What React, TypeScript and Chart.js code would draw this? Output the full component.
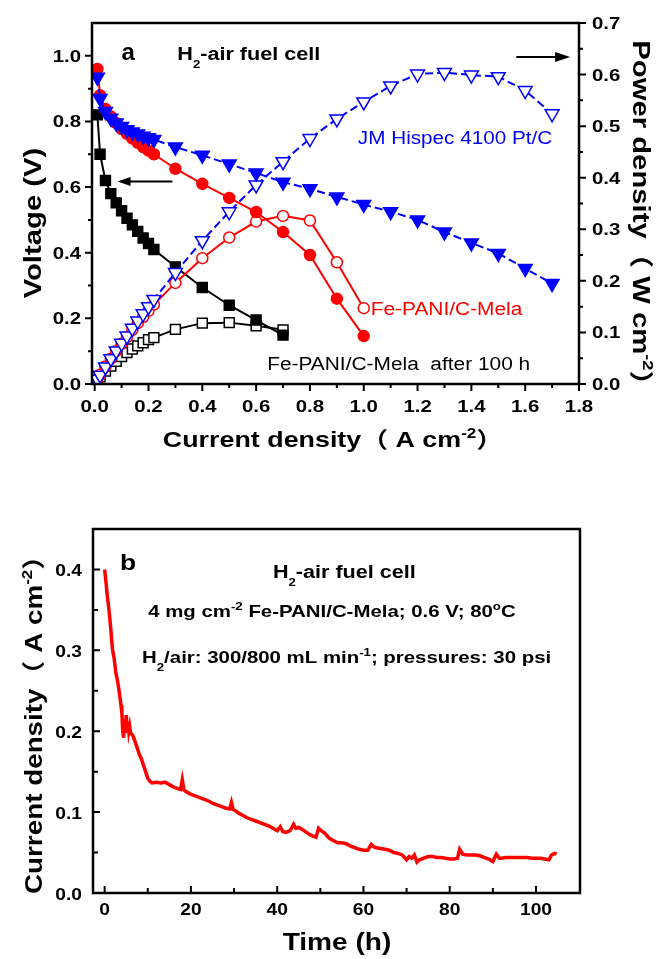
import React, { useEffect, useRef } from 'react';
import { Chart, registerables } from 'chart.js';
Chart.register(...registerables);

const FONT = '"Liberation Sans", Arial, "Noto Sans CJK SC", sans-serif';

// ---------- Panel a: polarization / power curves ----------
const ptCurrent = [0.01, 0.02, 0.04, 0.06, 0.08, 0.10, 0.12, 0.14, 0.16, 0.18, 0.20, 0.22, 0.3, 0.4, 0.5, 0.6, 0.7, 0.8, 0.9, 1.0, 1.1, 1.2, 1.3, 1.4, 1.5, 1.6, 1.7];
const ptVoltage = [0.935, 0.87, 0.83, 0.81, 0.795, 0.785, 0.775, 0.768, 0.762, 0.755, 0.75, 0.745, 0.722, 0.697, 0.67, 0.643, 0.615, 0.595, 0.57, 0.547, 0.525, 0.5, 0.463, 0.43, 0.398, 0.352, 0.306];
const ptPower = [0.009, 0.017, 0.033, 0.049, 0.064, 0.079, 0.093, 0.108, 0.122, 0.136, 0.15, 0.164, 0.216, 0.278, 0.334, 0.386, 0.431, 0.476, 0.514, 0.547, 0.578, 0.601, 0.604, 0.599, 0.596, 0.569, 0.524];

const feCurrent = [0.01, 0.02, 0.04, 0.06, 0.08, 0.10, 0.12, 0.14, 0.16, 0.18, 0.20, 0.22, 0.3, 0.4, 0.5, 0.6, 0.7, 0.8, 0.9, 1.0];
const feVoltage = [0.96, 0.88, 0.838, 0.815, 0.795, 0.777, 0.762, 0.748, 0.735, 0.722, 0.711, 0.70, 0.656, 0.61, 0.567, 0.524, 0.463, 0.393, 0.26, 0.146];
const fePower = [0.01, 0.018, 0.034, 0.049, 0.064, 0.078, 0.091, 0.105, 0.118, 0.13, 0.142, 0.154, 0.196, 0.244, 0.284, 0.315, 0.326, 0.317, 0.236, 0.147];

const agedCurrent = [0.01, 0.02, 0.04, 0.06, 0.08, 0.10, 0.12, 0.14, 0.16, 0.18, 0.20, 0.22, 0.3, 0.4, 0.5, 0.6, 0.7];
const agedVoltage = [0.82, 0.70, 0.62, 0.58, 0.552, 0.528, 0.505, 0.485, 0.465, 0.445, 0.428, 0.41, 0.357, 0.294, 0.24, 0.195, 0.149];
const agedPower = [0.008, 0.014, 0.025, 0.035, 0.044, 0.053, 0.061, 0.068, 0.074, 0.08, 0.086, 0.09, 0.106, 0.118, 0.119, 0.113, 0.105];

const aXMajor = [0, 0.2, 0.4, 0.6, 0.8, 1.0, 1.2, 1.4, 1.6, 1.8];
const aXMinor = [0.1, 0.3, 0.5, 0.7, 0.9, 1.1, 1.3, 1.5, 1.7];
const aYMajor = [0, 0.2, 0.4, 0.6, 0.8, 1.0];
const aYMinor = [0.1, 0.3, 0.5, 0.7, 0.9];
const aY2Major = [0, 0.1, 0.2, 0.3, 0.4, 0.5, 0.6, 0.7];
const aY2Minor = [0.05, 0.15, 0.25, 0.35, 0.45, 0.55, 0.65];

// ---------- Panel b: durability ----------
const timeH = [0, 0.3, 0.6, 1.0, 1.4, 1.8, 2.2, 2.6, 3.0, 3.4, 3.8, 4.0, 4.2, 4.4, 4.6, 4.8, 5.0, 5.2, 5.4, 5.6, 5.8, 6.0, 6.5, 7.0, 7.5, 8.0, 8.5, 9.0, 9.5, 10.0, 10.5, 11, 12, 13, 14, 15, 16, 17, 17.6, 18.0, 18.4, 19, 20, 21, 22, 23, 24, 25, 26, 27, 28, 29, 29.4, 29.8, 30.5, 31, 32, 33, 34, 35, 36, 37, 38, 39, 40, 40.7, 41.3, 42, 43, 43.8, 44.3, 45, 46, 47, 48, 49, 49.6, 50.2, 51, 52, 53, 54, 55, 56, 57, 58, 59, 60, 61, 61.8, 62.4, 63, 64, 65, 66, 67, 68, 69, 70, 70.6, 71.2, 71.8, 72.4, 73, 74, 75, 76, 77, 78, 79, 80, 81, 81.8, 82.3, 83, 84, 85, 86, 87, 88, 89, 90, 90.8, 91.5, 92, 93, 94, 95, 96, 97, 98, 99, 100, 101, 102, 103, 103.6, 104.3, 104.8];
const currentDensity = [0.400, 0.385, 0.368, 0.350, 0.328, 0.302, 0.290, 0.272, 0.262, 0.248, 0.232, 0.222, 0.200, 0.192, 0.215, 0.198, 0.220, 0.205, 0.212, 0.200, 0.206, 0.198, 0.195, 0.188, 0.180, 0.172, 0.166, 0.158, 0.150, 0.142, 0.138, 0.136, 0.137, 0.136, 0.137, 0.134, 0.131, 0.129, 0.128, 0.140, 0.127, 0.125, 0.122, 0.120, 0.118, 0.116, 0.114, 0.111, 0.109, 0.107, 0.105, 0.104, 0.112, 0.103, 0.101, 0.099, 0.096, 0.093, 0.091, 0.089, 0.087, 0.085, 0.083, 0.080, 0.077, 0.082, 0.076, 0.075, 0.077, 0.085, 0.080, 0.081, 0.078, 0.074, 0.071, 0.069, 0.080, 0.077, 0.074, 0.068, 0.065, 0.062, 0.062, 0.061, 0.058, 0.056, 0.054, 0.053, 0.053, 0.060, 0.057, 0.056, 0.055, 0.054, 0.053, 0.050, 0.049, 0.047, 0.041, 0.045, 0.043, 0.047, 0.038, 0.041, 0.043, 0.045, 0.045, 0.044, 0.044, 0.043, 0.042, 0.042, 0.043, 0.054, 0.048, 0.047, 0.047, 0.047, 0.046, 0.044, 0.042, 0.039, 0.048, 0.043, 0.043, 0.044, 0.044, 0.044, 0.044, 0.044, 0.044, 0.043, 0.043, 0.043, 0.042, 0.041, 0.047, 0.049, 0.048];

const bXMajor = [0, 20, 40, 60, 80, 100];
const bXMinor = [10, 30, 50, 70, 90];
const bYMajor = [0, 0.1, 0.2, 0.3, 0.4];
const bYMinor = [0.05, 0.15, 0.25, 0.35];

type Part = { t: string; sup?: boolean; sub?: boolean };
type TOpts = { bold?: boolean; color?: string; stretch?: number; align?: 'left' | 'center' | 'right'; rot?: number };

function drawRich(ctx: CanvasRenderingContext2D, parts: Part[], x: number, y: number, size: number, o: TOpts) {
  const weight = o.bold ? 'bold ' : '';
  const s = o.stretch ?? 1;
  ctx.save();
  ctx.translate(x, y);
  if (o.rot) ctx.rotate(o.rot);
  ctx.scale(s, 1);
  ctx.fillStyle = o.color ?? '#000';
  ctx.textAlign = 'left';
  ctx.textBaseline = 'alphabetic';
  const fontFor = (p: Part) => `${weight}${p.sup || p.sub ? Math.round(size * 0.62) : size}px ${FONT}`;
  let total = 0;
  for (const p of parts) {
    ctx.font = fontFor(p);
    total += ctx.measureText(p.t).width;
  }
  let cx = o.align === 'center' ? -total / 2 : o.align === 'right' ? -total : 0;
  for (const p of parts) {
    ctx.font = fontFor(p);
    const dy = p.sup ? -size * 0.42 : p.sub ? size * 0.45 : 0;
    ctx.fillText(p.t, cx, dy);
    cx += ctx.measureText(p.t).width;
  }
  ctx.restore();
}

function drawTicks(ctx: CanvasRenderingContext2D, scale: any, values: number[], len: number, side: string, inward: boolean, area: any) {
  ctx.beginPath();
  for (const v of values) {
    const p = scale.getPixelForValue(v);
    if (side === 'bottom') {
      const y0 = area.bottom;
      ctx.moveTo(p, y0);
      ctx.lineTo(p, inward ? y0 - len : y0 + len);
    } else if (side === 'left') {
      const x0 = area.left;
      ctx.moveTo(x0, p);
      ctx.lineTo(inward ? x0 + len : x0 - len, p);
    } else {
      const x0 = area.right;
      ctx.moveTo(x0, p);
      ctx.lineTo(inward ? x0 - len : x0 + len, p);
    }
  }
  ctx.stroke();
}

function drawArrow(ctx: CanvasRenderingContext2D, x0: number, y0: number, x1: number, y1: number, hl: number, hw: number) {
  const dir = Math.sign(x1 - x0);
  ctx.save();
  ctx.strokeStyle = '#000';
  ctx.fillStyle = '#000';
  ctx.lineWidth = 2;
  ctx.beginPath();
  ctx.moveTo(x0, y0);
  ctx.lineTo(x1 - dir * hl * 0.8, y1);
  ctx.stroke();
  ctx.beginPath();
  ctx.moveTo(x1, y1);
  ctx.lineTo(x1 - dir * hl, y1 - hw);
  ctx.lineTo(x1 - dir * hl, y1 + hw);
  ctx.closePath();
  ctx.fill();
  ctx.restore();
}

const hiddenScale = (extra: any) => ({
  type: 'linear',
  grid: { display: false },
  border: { display: false },
  ticks: { display: false },
  ...extra,
});

const decorA = {
  id: 'decorA',
  afterDraw(chart: any) {
    const ctx: CanvasRenderingContext2D = chart.ctx;
    const a = chart.chartArea;
    const xs = chart.scales.x, ys = chart.scales.y, y2 = chart.scales.y2;
    ctx.save();
    ctx.strokeStyle = '#000';
    ctx.lineWidth = 2.5;
    ctx.strokeRect(a.left, a.top, a.right - a.left, a.bottom - a.top);
    ctx.lineWidth = 2;
    drawTicks(ctx, xs, aXMajor, 7, 'bottom', false, a);
    drawTicks(ctx, xs, aXMinor, 4, 'bottom', false, a);
    drawTicks(ctx, ys, aYMajor, 7, 'left', false, a);
    drawTicks(ctx, ys, aYMinor, 4, 'left', false, a);
    drawTicks(ctx, y2, aY2Major, 7, 'right', false, a);
    drawTicks(ctx, y2, aY2Minor, 4, 'right', false, a);
    const tf = { bold: true, stretch: 1.2 };
    for (const v of aXMajor) drawRich(ctx, [{ t: v.toFixed(1) }], xs.getPixelForValue(v), a.bottom + 28, 17, { ...tf, align: 'center' });
    for (const v of aYMajor) drawRich(ctx, [{ t: v.toFixed(1) }], a.left - 11, ys.getPixelForValue(v) + 6, 17, { ...tf, align: 'right' });
    for (const v of aY2Major) drawRich(ctx, [{ t: v.toFixed(1) }], a.right + 13, y2.getPixelForValue(v) + 6, 17, { ...tf, align: 'left' });
    // axis titles
    drawRich(ctx, [{ t: 'Current density（ A cm' }, { t: '-2', sup: true }, { t: '）' }], 333, 447, 22, { bold: true, stretch: 1.22, align: 'center' });
    drawRich(ctx, [{ t: 'Voltage (V)' }], 41, 223, 24, { bold: true, stretch: 1.22, align: 'center', rot: -Math.PI / 2 });
    drawRich(ctx, [{ t: 'Power density（ W cm' }, { t: '-2', sup: true }, { t: '）' }], 633, 220, 24, { bold: true, stretch: 1.22, align: 'center', rot: Math.PI / 2 });
    // annotations
    drawRich(ctx, [{ t: 'a' }], xs.getPixelForValue(0.10), ys.getPixelForValue(0.988), 24, { bold: true });
    drawRich(ctx, [{ t: 'H' }, { t: '2', sub: true }, { t: '-air fuel cell' }], xs.getPixelForValue(0.307), ys.getPixelForValue(0.988), 18, { bold: true, stretch: 1.2 });
    drawRich(ctx, [{ t: 'JM Hispec 4100 Pt/C' }], xs.getPixelForValue(0.978), ys.getPixelForValue(0.7325), 18, { stretch: 1.15, color: '#0000ff' });
    drawRich(ctx, [{ t: 'Fe-PANI/C-Mela' }], xs.getPixelForValue(1.026), ys.getPixelForValue(0.21), 18, { stretch: 1.16, color: '#ff0000' });
    drawRich(ctx, [{ t: 'Fe-PANI/C-Mela  after 100 h' }], xs.getPixelForValue(0.641), ys.getPixelForValue(0.0426), 18, { stretch: 1.16, color: '#000' });
    drawArrow(ctx, xs.getPixelForValue(0.289), ys.getPixelForValue(0.617), xs.getPixelForValue(0.085), ys.getPixelForValue(0.617), 13, 4.5);
    drawArrow(ctx, xs.getPixelForValue(1.567), y2.getPixelForValue(0.634), xs.getPixelForValue(1.767), y2.getPixelForValue(0.634), 15, 5);
    ctx.restore();
  },
};

const decorB = {
  id: 'decorB',
  afterDraw(chart: any) {
    const ctx: CanvasRenderingContext2D = chart.ctx;
    const a = chart.chartArea;
    const xs = chart.scales.x, ys = chart.scales.y;
    ctx.save();
    ctx.strokeStyle = '#000';
    ctx.lineWidth = 2.5;
    ctx.strokeRect(a.left, a.top, a.right - a.left, a.bottom - a.top);
    ctx.lineWidth = 2;
    drawTicks(ctx, xs, bXMajor, 7, 'bottom', true, a);
    drawTicks(ctx, xs, bXMinor, 5, 'bottom', true, a);
    drawTicks(ctx, ys, bYMajor, 7, 'left', true, a);
    drawTicks(ctx, ys, bYMinor, 5, 'left', true, a);
    const tf = { bold: true, stretch: 1.2 };
    for (const v of bXMajor) drawRich(ctx, [{ t: String(v) }], xs.getPixelForValue(v), a.bottom + 22, 16, { ...tf, align: 'center' });
    for (const v of bYMajor) drawRich(ctx, [{ t: v.toFixed(1) }], a.left - 11, ys.getPixelForValue(v) + 6.5, 16, { ...tf, align: 'right' });
    drawRich(ctx, [{ t: 'Time (h)' }], 337, 480, 23, { bold: true, stretch: 1.22, align: 'center' });
    drawRich(ctx, [{ t: 'Current density（ A cm' }, { t: '-2', sup: true }, { t: '）' }], 42, 248, 23, { bold: true, stretch: 1.21, align: 'center', rot: -Math.PI / 2 });
    drawRich(ctx, [{ t: 'b' }], xs.getPixelForValue(3.57), ys.getPixelForValue(0.399), 22, { bold: true, stretch: 1.2 });
    drawRich(ctx, [{ t: 'H' }, { t: '2', sub: true }, { t: '-air fuel cell' }], xs.getPixelForValue(39.0), ys.getPixelForValue(0.389), 18, { bold: true, stretch: 1.2 });
    drawRich(ctx, [{ t: '4 mg cm' }, { t: '-2', sup: true }, { t: ' Fe-PANI/C-Mela; 0.6 V; 80' }, { t: 'o', sup: true }, { t: 'C' }], xs.getPixelForValue(10.1), ys.getPixelForValue(0.341), 17, { bold: true, stretch: 1.2 });
    drawRich(ctx, [{ t: 'H' }, { t: '2', sub: true }, { t: '/air: 300/800 mL min' }, { t: '-1', sup: true }, { t: '; pressures: 30 psi' }], xs.getPixelForValue(8.67), ys.getPixelForValue(0.284), 17, { bold: true, stretch: 1.2 });
    ctx.restore();
  },
};

function series(xv: number[], yv: number[], axis: string, color: string, style: string, filled: boolean, dashed: boolean, r: number) {
  return {
    data: xv.map((x, i) => ({ x, y: yv[i] })),
    yAxisID: axis,
    borderColor: color,
    backgroundColor: color,
    borderWidth: 2,
    borderDash: dashed ? [8, 4] : [],
    pointStyle: style,
    rotation: style === 'triangle' ? 180 : 0,
    pointRotation: style === 'triangle' ? 180 : 0,
    pointRadius: r,
    pointBorderWidth: 1.5,
    pointBackgroundColor: filled ? color : '#ffffff',
    pointBorderColor: color,
    tension: 0,
    fill: false,
  };
}

export default function App() {
  const topRef = useRef<HTMLCanvasElement>(null);
  const botRef = useRef<HTMLCanvasElement>(null);

  useEffect(() => {
    const blue = '#0000ff', red = '#ff0000', black = '#000000';
    const top = new Chart(topRef.current as HTMLCanvasElement, {
      type: 'line',
      data: {
        datasets: [
          series(ptCurrent, ptVoltage, 'y', blue, 'triangle', true, true, 8),
          series(ptCurrent, ptPower, 'y2', blue, 'triangle', false, true, 8),
          series(feCurrent, feVoltage, 'y', red, 'circle', true, false, 5.5),
          series(feCurrent, fePower, 'y2', red, 'circle', false, false, 5.5),
          series(agedCurrent, agedVoltage, 'y', black, 'rect', true, false, 7),
          series(agedCurrent, agedPower, 'y2', black, 'rect', false, false, 7),
        ] as any,
      },
      options: {
        responsive: false,
        animation: false,
        devicePixelRatio: 1,
        events: [],
        layout: { padding: { top: 23, left: 0, right: 0, bottom: 0 } },
        plugins: { legend: { display: false }, tooltip: { enabled: false } },
        scales: {
          x: hiddenScale({ position: 'bottom', min: -0.01, max: 1.8, afterFit: (s: any) => { s.height = 86; } }),
          y: hiddenScale({ position: 'left', min: 0, max: 1.1, afterFit: (s: any) => { s.width = 92; } }),
          y2: hiddenScale({ position: 'right', min: 0, max: 0.7, afterFit: (s: any) => { s.width = 83; } }),
        } as any,
      },
      plugins: [decorA],
    } as any);

    const bot = new Chart(botRef.current as HTMLCanvasElement, {
      type: 'line',
      data: {
        datasets: [
          {
            data: timeH.map((x, i) => ({ x, y: currentDensity[i] })),
            borderColor: '#ff0000',
            borderWidth: 3.5,
            pointRadius: 0,
            tension: 0,
            fill: false,
          },
        ],
      },
      options: {
        responsive: false,
        animation: false,
        devicePixelRatio: 1,
        events: [],
        layout: { padding: { top: 59, left: 0, right: 82, bottom: 0 } },
        plugins: { legend: { display: false }, tooltip: { enabled: false } },
        scales: {
          x: hiddenScale({ position: 'bottom', min: -2.7, max: 110.2, afterFit: (s: any) => { s.height = 66; } }),
          y: hiddenScale({ position: 'left', min: 0, max: 0.45, afterFit: (s: any) => { s.width = 93; } }),
        } as any,
      },
      plugins: [decorB],
    } as any);

    return () => {
      top.destroy();
      bot.destroy();
    };
  }, []);

  return (
    <div style={{ position: 'absolute', left: 0, top: 0, width: 662, height: 959, background: '#ffffff' }}>
      <canvas ref={topRef} width={662} height={470} style={{ position: 'absolute', left: 0, top: 0, display: 'block' }} />
      <canvas ref={botRef} width={662} height={489} style={{ position: 'absolute', left: 0, top: 470, display: 'block' }} />
    </div>
  );
}
